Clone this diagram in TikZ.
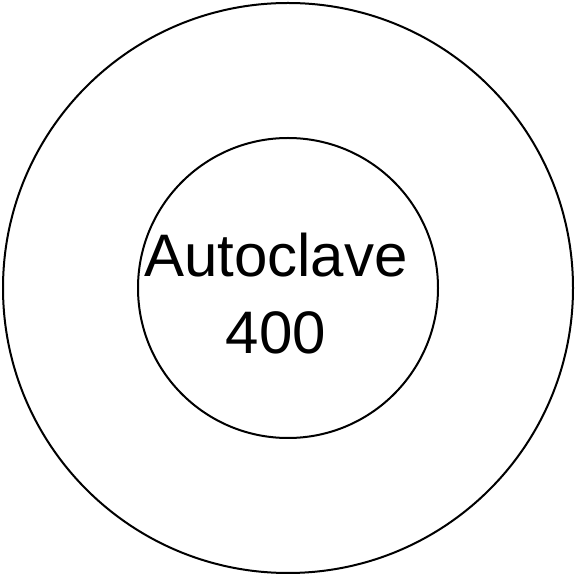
\documentclass[tikz,border=0pt]{standalone}
\usepackage{fontspec}
\setmainfont{Liberation Sans}
\begin{document}
\begin{tikzpicture}[x=1pt,y=1pt,
  ring/.style={draw=black,line width=2pt,circle,inner sep=0pt},
  label/.style={font=\fontsize{60}{75}\selectfont,inner sep=0pt,anchor=base}]
\useasboundingbox (0,0) rectangle (576,576);
\node[ring,minimum size=570pt] (outer) at (288,288) {};
\node[ring,minimum size=300pt] (inner) at (288,288) {};
\node[label] (l1) at (276,299) {Autoclave};
\node[label] (l2) at (276,222) {400};
\end{tikzpicture}
\end{document}
